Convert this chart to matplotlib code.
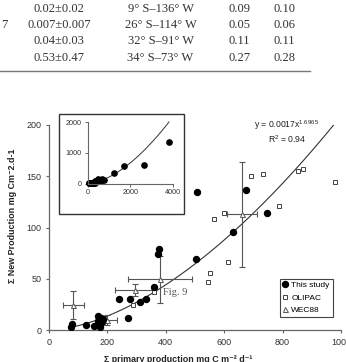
import matplotlib
matplotlib.use("Agg")
import matplotlib.pyplot as plt
import numpy as np
from matplotlib.patches import Rectangle

plt.rcParams['font.family'] = ['Liberation Sans', 'DejaVu Sans']
plt.rcParams['mathtext.fontset'] = 'custom'
plt.rcParams['mathtext.rm'] = 'Liberation Sans'
plt.rcParams['mathtext.default'] = 'regular'

# ---------------- data ----------------
table_col1 = ["0.02±0.02", "0.007±0.007", "0.04±0.03", "0.53±0.47"]
table_col2 = ["9° S–136° W", "26° S–114° W", "32° S–91° W", "34° S–73° W"]
table_col3 = ["0.09", "0.05", "0.11", "0.27"]
table_col4 = ["0.10", "0.06", "0.11", "0.28"]

study_x = [74, 80, 125, 155, 167, 169, 173, 175, 184, 173, 178, 180,
           240, 270, 278, 312, 333, 358, 372, 378, 504, 508, 629, 673, 747]
study_y = [2.6, 5.5, 4.9, 3.9, 9, 13.6, 6.5, 11.4, 10.4, 3.2, 12, 8,
           30, 11.4, 30, 27, 30.5, 42.3, 74, 79, 69.5, 134.5, 96, 137, 113.7]

olipac_x = [286, 361, 543, 552, 564, 601, 613, 692, 732, 789, 852, 870, 978]
olipac_y = [24.4, 37, 46.5, 56, 108.2, 114.3, 66.5, 150.4, 152, 120.5, 154.7, 157, 144.6]

wec_x = [83, 197, 294, 381, 660]
wec_y = [24.4, 9.5, 39, 49.4, 112.7]
wec_xerr = [36, 35, 68, 110, 52]
wec_yerr = [14, 5, 6, 23, 51]

inset_extra_x = [1240, 1690, 2630, 3790]
inset_extra_y = [350, 580, 600, 1370]

fit_a = 0.0017
fit_b = 1.6965

x_ticks = [0, 200, 400, 600, 800, 1000]
y_ticks = [0, 50, 100, 150, 200]
inset_xticks = [0, 2000, 4000]
inset_yticks = [0, 1000, 2000]

# ---------------- figure ----------------
W, H = 346, 362
fig = plt.figure(figsize=(W / 100, H / 100), dpi=100)

def fx(px):
    return px / W

def fy(py):
    return (H - py) / H

# table text (top of page crop)
row_y = [9, 25, 41.5, 58]
serif = 'Liberation Serif'
tcol = '#333333'
tfs = 9
for i, y in enumerate(row_y):
    fig.text(fx(59), fy(y), table_col1[i], ha='center', va='center', family=serif, fontsize=tfs, color=tcol)
    fig.text(fx(160.5), fy(y), table_col2[i], ha='center', va='center', family=serif, fontsize=tfs, color=tcol)
    fig.text(fx(239.5), fy(y), table_col3[i], ha='center', va='center', family=serif, fontsize=tfs, color=tcol)
    fig.text(fx(284.5), fy(y), table_col4[i], ha='center', va='center', family=serif, fontsize=tfs, color=tcol)
fig.text(fx(7), fy(25), "7", ha='right', va='center', family=serif, fontsize=tfs, color=tcol)
fig.add_artist(plt.Line2D([0, fx(310)], [fy(71), fy(71)], color='#777777', lw=1.0))

# main axes
x0, x1 = 49, 341
y0, y1 = 330, 125
ax = fig.add_axes([fx(x0), fy(y0), (x1 - x0) / W, (y0 - y1) / H])
ax.set_xlim(0, 1000)
ax.set_ylim(0, 200)
for s in ['top', 'right']:
    ax.spines[s].set_visible(False)
for s in ['left', 'bottom']:
    ax.spines[s].set_color('#666666')
    ax.spines[s].set_linewidth(0.9)
ax.set_xticks(x_ticks)
ax.set_yticks(y_ticks)
ax.tick_params(axis='both', labelsize=6.5, length=2.5, width=0.8, color='#666666',
               labelcolor='#333333', pad=3)

xs = np.linspace(70, 974, 200)
ax.plot(xs, fit_a * xs ** fit_b, color='#333333', lw=0.8, zorder=2)

ax.errorbar(wec_x, wec_y, xerr=wec_xerr, yerr=wec_yerr, fmt='none',
            ecolor='#555555', elinewidth=0.8, capsize=2, capthick=0.8, zorder=3)
ax.plot(olipac_x, olipac_y, 's', ms=3.2, mfc='white', mec='#444444', mew=0.7,
        ls='none', zorder=4, label='OLIPAC')
ax.plot(wec_x, wec_y, '^', ms=3.6, mfc='white', mec='#555555', mew=0.7,
        ls='none', zorder=4, label='WEC88')
ax.plot(study_x, study_y, 'o', ms=4.3, color='black', ls='none', zorder=5,
        label='This study')

handles, labels = ax.get_legend_handles_labels()
order = [2, 0, 1]
leg = ax.legend([handles[i] for i in order], [labels[i] for i in order],
                loc='lower left', bbox_to_anchor=((280 - x0) / (x1 - x0), (y0 - 317) / (y0 - y1)),
                fontsize=6, frameon=True, fancybox=False, edgecolor='#444444',
                handlelength=0.6, handletextpad=0.4, borderpad=0.35, labelspacing=0.55,
                borderaxespad=0, framealpha=1)
leg.get_frame().set_linewidth(0.8)

ax.text(392, 37, "Fig. 9", family=serif, fontsize=7.5, color='#555555', ha='left', va='center', zorder=6)

fig.text(fx(287), fy(125), "y = 0.0017x$^{1.6965}$", ha='center', va='center', fontsize=6.2, color='#222222')
fig.text(fx(287), fy(139), "R$^{2}$ = 0.94", ha='center', va='center', fontsize=6.2, color='#222222')

ax.set_xlabel("Σ primary production mg C m⁻² d⁻¹", fontsize=6.4, fontweight='bold', color='#222222')
ax.xaxis.set_label_coords((178 - x0) / (x1 - x0), -(355 - y0) / (y0 - y1))
ax.set_ylabel("Σ New Production mg Cm⁻2.d-1", fontsize=6.4, fontweight='bold', color='#222222')
ax.yaxis.set_label_coords(-(x0 - 17) / (x1 - x0), (y0 - 216) / (y0 - y1))

# inset frame
fig.add_artist(Rectangle((fx(59), fy(214)), 125 / W, 100 / H, transform=fig.transFigure,
                         facecolor='white', edgecolor='#333333', lw=1.0, zorder=3))
ix0, ix1 = 87.5, 173.3
iy0, iy1 = 183.5, 122.3
axi = fig.add_axes([fx(ix0), fy(iy0), (ix1 - ix0) / W, (iy0 - iy1) / H], zorder=4)
axi.patch.set_alpha(0)
axi.set_xlim(0, 4000)
axi.set_ylim(0, 2000)
for s in ['top', 'right']:
    axi.spines[s].set_visible(False)
for s in ['left', 'bottom']:
    axi.spines[s].set_color('#666666')
    axi.spines[s].set_linewidth(0.8)
axi.set_xticks(inset_xticks)
axi.set_yticks(inset_yticks)
axi.tick_params(axis='both', labelsize=5.2, length=2, width=0.7, color='#666666',
                labelcolor='#333333', pad=2)
xi = np.linspace(50, 3800, 200)
axi.plot(xi, fit_a * xi ** fit_b, color='#333333', lw=0.7, clip_on=False)
axi.plot(study_x + inset_extra_x, study_y + inset_extra_y, 'o', ms=3.8, color='black',
         ls='none', clip_on=False)

fig.savefig("out.png", dpi=100)
